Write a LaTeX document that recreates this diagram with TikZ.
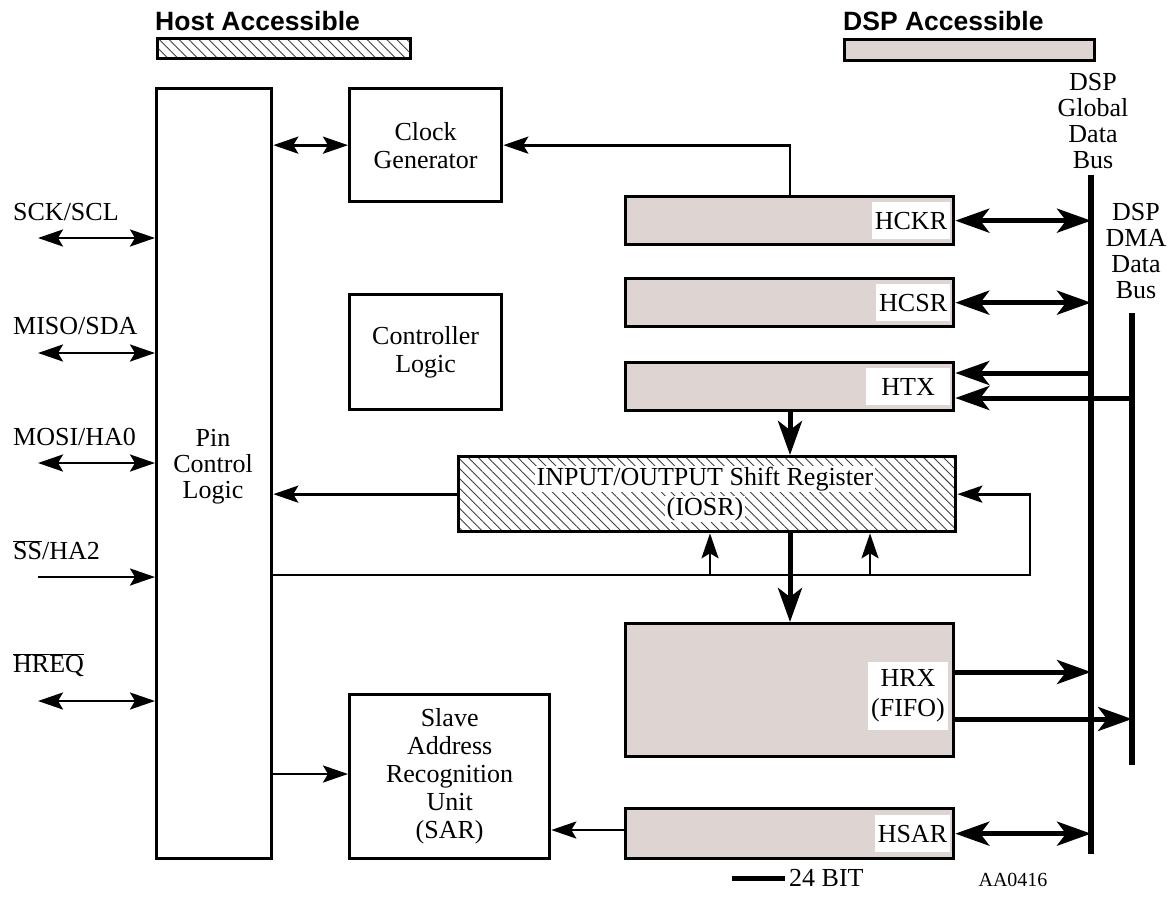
\documentclass[tikz,border=0pt]{standalone}
\usepackage{fontspec}
\setmainfont{Liberation Serif}
\newfontfamily\hdrfont{Liberation Sans}
\usetikzlibrary{arrows.meta,patterns.meta}
\definecolor{dspfill}{RGB}{222,212,210}
\tikzset{
  blk/.style={draw,line width=3.3pt,inner sep=0pt,align=center,font=\fontsize{26}{28}\selectfont},
  hostbox/.style={blk,pattern={Lines[angle=-45,distance=7pt,line width=0.9pt]},pattern color=black!75},
  dspbox/.style={blk,fill=dspfill},
  reglbl/.style={fill=white,inner sep=3pt,align=center,font=\fontsize{26}{30}\selectfont},
  lbl/.style={inner sep=0pt,align=center,font=\fontsize{26}{26}\selectfont},
  pinlbl/.style={inner sep=0pt,anchor=west,font=\fontsize{26}{28}\selectfont},
  hdr/.style={inner sep=0pt,anchor=south west,font=\hdrfont\bfseries\fontsize{26.5}{28}\selectfont},
  thin/.style={line width=2.7pt},
  thick/.style={line width=5pt},
  bus/.style={line width=5.5pt},
  ta/.style={thin,-{Stealth[length=25pt,width=17pt,inset=5pt]}},
  tda/.style={thin,{Stealth[length=25pt,width=17pt,inset=5pt]}-{Stealth[length=25pt,width=17pt,inset=5pt]}},
  ka/.style={thick,-{Stealth[length=34pt,width=24pt,inset=9pt]}},
  kda/.style={thick,{Stealth[length=34pt,width=24pt,inset=9pt]}-{Stealth[length=34pt,width=24pt,inset=9pt]}},
}
\begin{document}
\begin{tikzpicture}[x=1pt,y=-1pt]
\useasboundingbox (0,0) rectangle (1174,900);
% legend
\node[hdr] (hosthdr) at (155,31) {Host Accessible};
\node[hostbox,minimum width=253pt,minimum height=20pt,anchor=north west] (hostbar) at (157,38) {};
\node[hdr] (dsphdr) at (843,31) {DSP Accessible};
\node[dspbox,minimum width=250pt,minimum height=21pt,anchor=north west] (dspbar) at (843,38) {};
% bus labels
\node[lbl,anchor=north] (gbl) at (1093,73) {DSP\\Global\\Data\\Bus};
\node[lbl,anchor=north] (dbl) at (1136,203) {DSP\\DMA\\Data\\Bus};
% buses
\coordinate (gtop) at (1091,175);
\coordinate (gbot) at (1091,854);
\draw[bus] (gtop) -- (gbot);
\coordinate (dtop) at (1132,313);
\coordinate (dbot) at (1132,765);
\draw[bus] (dtop) -- (dbot);
% host-side blocks
\node[blk,minimum width=115pt,minimum height=770pt,anchor=north west] (pin) at (155,87) {};
\node[lbl] (pintxt) at (213,467) {Pin\\Control\\Logic};
\node[blk,minimum width=152pt,minimum height=113pt,anchor=north west] (clk) at (348,87) {Clock\\Generator};
\node[blk,minimum width=152pt,minimum height=115pt,anchor=north west] (ctl) at (348,293) {Controller\\Logic};
\node[blk,minimum width=200pt,minimum height=164pt,anchor=north west] (sar) at (348,693) {Slave\\Address\\Recognition\\Unit\\(SAR)};
% DSP registers
\node[dspbox,minimum width=328pt,minimum height=48pt,anchor=north west] (hckr) at (624,195) {};
\node[dspbox,minimum width=328pt,minimum height=48pt,anchor=north west] (hcsr) at (624,277) {};
\node[dspbox,minimum width=328pt,minimum height=48pt,anchor=north west] (htx) at (624,361) {};
\node[dspbox,minimum width=328pt,minimum height=133pt,anchor=north west] (hrx) at (624,622) {};
\node[dspbox,minimum width=328pt,minimum height=50pt,anchor=north west] (hsar) at (624,807) {};
\node[reglbl,minimum height=37pt,anchor=east] (hckrl) at ([xshift=-5pt]hckr.east) {HCKR};
\node[reglbl,minimum height=37pt,anchor=east] (hcsrl) at ([xshift=-5pt]hcsr.east) {HCSR};
\node[reglbl,minimum height=37pt,minimum width=84pt,anchor=east] (htxl) at ([xshift=-5pt]htx.east) {HTX};
\node[reglbl,minimum height=37pt,anchor=east] (hsarl) at ([xshift=-5pt]hsar.east) {HSAR};
\node[reglbl,minimum height=68pt,anchor=north east] (hrxl) at (948,662) {HRX\\(FIFO)};
% IOSR
\node[hostbox,minimum width=497pt,minimum height=75pt,anchor=north west] (iosr) at (457,455) {};
\node[reglbl,inner sep=1.5pt,anchor=center] (iosr1) at (705,479) {INPUT/OUTPUT Shift Register};
\node[reglbl,inner sep=1.5pt,anchor=center] (iosr2) at (705,509) {(IOSR)};
% pins
\node[pinlbl] (sck) at (13,212) {SCK/SCL};
\node[pinlbl] (miso) at (13,326) {MISO/SDA};
\node[pinlbl] (mosi) at (13,437) {MOSI/HA0};
\node[pinlbl] (ss) at (13,550) {$\overline{\mbox{SS}}$/HA2};
\node[pinlbl] (hreq) at (13,665) {$\overline{\mbox{HREQ}}$};
\coordinate (p1) at (38,238);
\coordinate (p2) at (38,353);
\coordinate (p3) at (38,463);
\coordinate (p4) at (38,577);
\coordinate (p5) at (38,701);
\draw[tda] (p1) -- (p1 -| pin.west);
\draw[tda] (p2) -- (p2 -| pin.west);
\draw[tda] (p3) -- (p3 -| pin.west);
\draw[ta] (p4) -- (p4 -| pin.west);
\draw[tda] (p5) -- (p5 -| pin.west);
% host connections
\draw[tda] (pin.east |- clk.west) -- (clk.west);
\coordinate (hckrtap) at (790,195);
\draw[ta] (hckrtap) -- (hckrtap |- clk.east) -- (clk.east);
\draw[ta] (iosr.west) -- (iosr.west -| pin.east);
\coordinate (psar) at (270,774);
\draw[ta] (psar) -- (psar -| sar.west);
\coordinate (hs) at (624,830);
\draw[ta] (hs) -- (hs -| sar.east);
% feedback
\coordinate (fb1) at (270,575);
\coordinate (fbr) at (1030,575);
\draw[ta] (fb1) -- (fbr) -- (fbr |- iosr.east) -- (iosr.east);
\coordinate (u1) at (710,575);
\coordinate (u2) at (870,575);
\draw[ta] (u1) -- (u1 |- iosr.south);
\draw[ta] (u2) -- (u2 |- iosr.south);
% data paths
\draw[ka] (htx.south -| hckrtap) -- (iosr.north -| hckrtap);
\draw[ka] (iosr.south -| hckrtap) -- (hrx.north -| hckrtap);
\draw[kda] (hckr.east) -- (hckr.east -| gtop);
\draw[kda] (hcsr.east) -- (hcsr.east -| gtop);
\coordinate (tx1) at (1091,373);
\coordinate (tx2) at (1132,398);
\draw[ka] (tx1) -- (tx1 -| htx.east);
\draw[ka] (tx2) -- (tx2 -| htx.east);
\coordinate (rx1) at (952,672);
\coordinate (rx2) at (952,719);
\draw[ka] (rx1) -- (rx1 -| gtop);
\draw[ka] (rx2) -- (rx2 -| dtop);
\draw[kda] (hsar.east |- hsarl) -- (hsarl -| gtop);
% footer
\coordinate (k1) at (732,878);
\coordinate (k2) at (785,878);
\draw[thick] (k1) -- (k2);
\node[inner sep=0pt,anchor=base west,font=\fontsize{26}{28}\selectfont] (kb) at (789,886) {24 BIT};
\node[inner sep=0pt,anchor=base,font=\fontsize{20}{22}\selectfont] (aa) at (1013,886) {AA0416};
\end{tikzpicture}
\end{document}
